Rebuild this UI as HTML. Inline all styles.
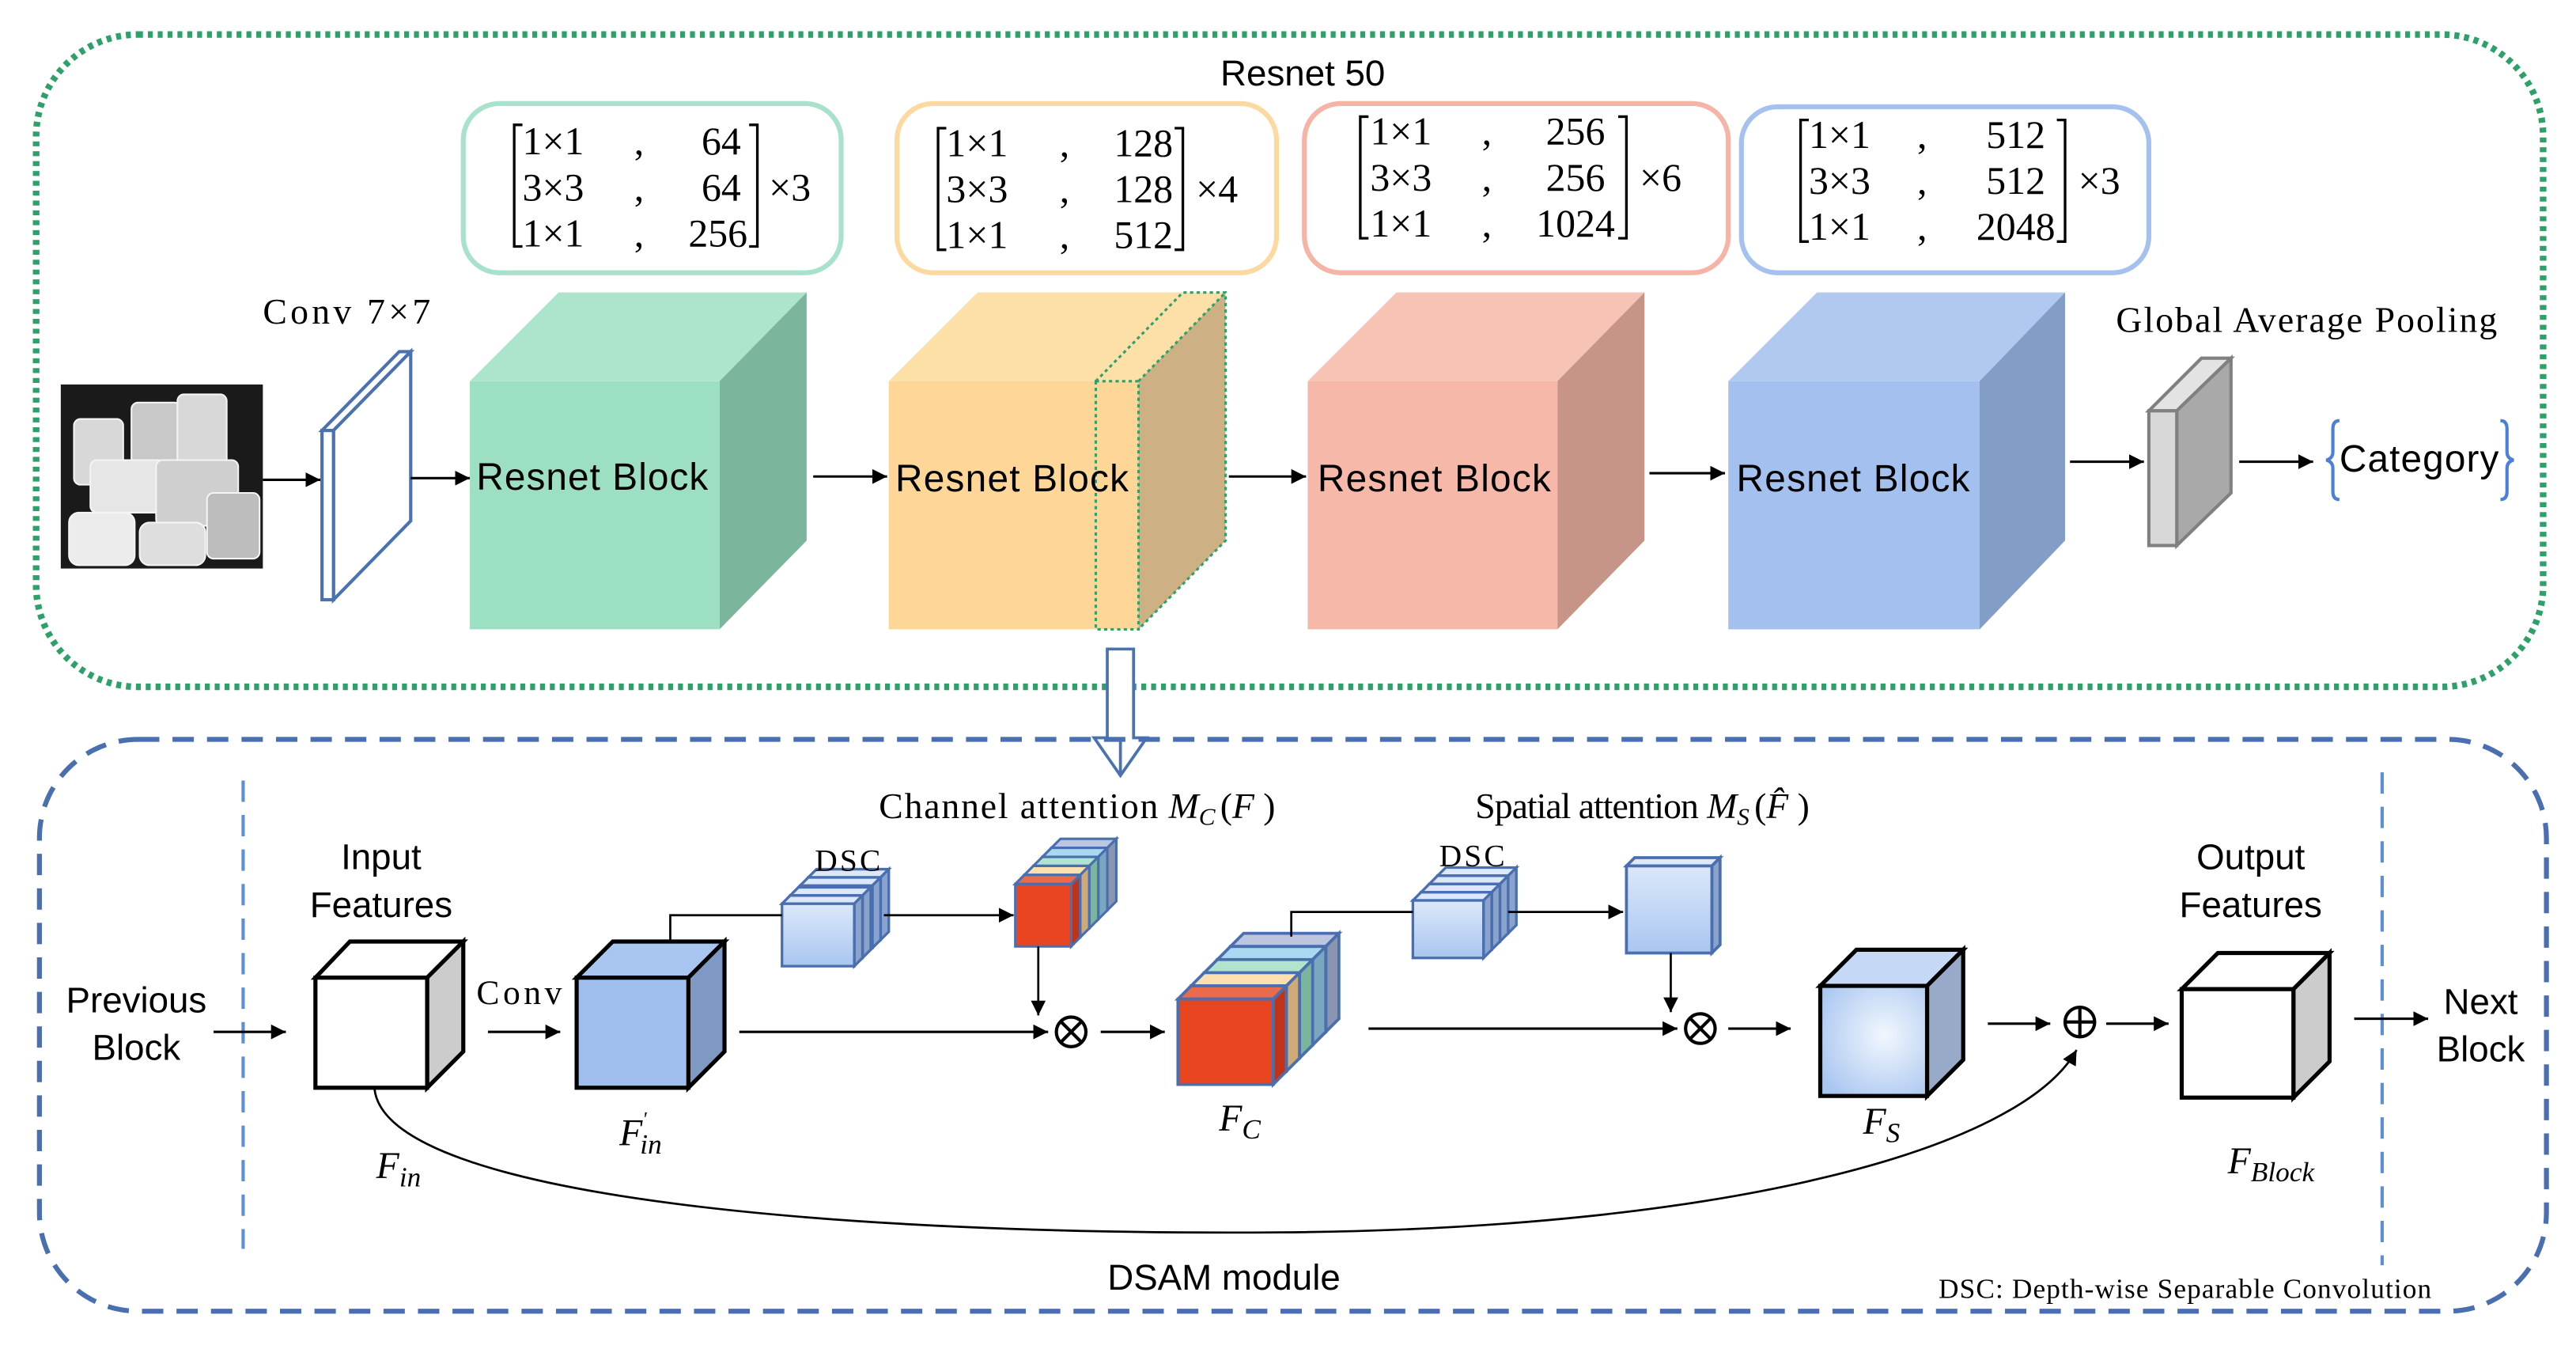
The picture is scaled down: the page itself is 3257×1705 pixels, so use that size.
<!DOCTYPE html>
<html><head><meta charset="utf-8"><style>
html,body{margin:0;padding:0;background:#fff}
svg{display:block}
.s{font-family:"Liberation Sans",sans-serif}
.r{font-family:"Liberation Serif",serif}
</style></head><body>
<svg width="3257" height="1705" viewBox="0 0 1568 821" preserveAspectRatio="none" xmlns="http://www.w3.org/2000/svg">
<defs>
<marker id="a" viewBox="0 0 10 10" refX="10" refY="5" markerWidth="9" markerHeight="9" markerUnits="userSpaceOnUse" orient="auto"><path d="M0,0L10,5L0,10z" fill="#000"/></marker>
<linearGradient id="lb" x1="0" y1="0" x2="0" y2="1"><stop offset="0" stop-color="#dce8fa"/><stop offset="1" stop-color="#a9c6f0"/></linearGradient>
<radialGradient id="rg" cx="0.6" cy="0.45" r="0.7"><stop offset="0" stop-color="#f2f7fe"/><stop offset="1" stop-color="#a9c6f0"/></radialGradient>
</defs>

<!-- top green dotted container -->
<rect x="22" y="21" width="1526" height="397" rx="62" fill="none" stroke="#2ea06a" stroke-width="4" stroke-dasharray="3,3"/>
<text x="793" y="52" class="s" font-size="22" text-anchor="middle">Resnet 50</text>

<!-- matrix boxes -->
<rect x="282" y="63" width="230" height="103" rx="22" fill="#fff" stroke="#a8e2cb" stroke-width="3"/>
<rect x="546" y="63" width="231" height="103" rx="22" fill="#fff" stroke="#fdd9a2" stroke-width="3"/>
<rect x="794" y="63" width="258" height="103" rx="22" fill="#fff" stroke="#f5b4a6" stroke-width="3"/>
<rect x="1060" y="65" width="248" height="101" rx="22" fill="#fff" stroke="#a5c1ef" stroke-width="3"/>

<g class="r" font-size="24" fill="#000">
<g>
<path d="M318,76h-5v74h5M456,76h5v74h-5" fill="none" stroke="#000" stroke-width="1.6"/>
<text x="318" y="94">1×1</text><text x="386" y="94">,</text><text x="451" y="94" text-anchor="end">64</text>
<text x="318" y="122">3×3</text><text x="386" y="122">,</text><text x="451" y="122" text-anchor="end">64</text>
<text x="318" y="150">1×1</text><text x="386" y="150">,</text><text x="455" y="150" text-anchor="end">256</text>
<text x="468" y="122">×3</text>
</g>
<g>
<path d="M576,78h-5v74h5M715,78h5v74h-5" fill="none" stroke="#000" stroke-width="1.6"/>
<text x="576" y="95">1×1</text><text x="645" y="95">,</text><text x="714" y="95" text-anchor="end">128</text>
<text x="576" y="123">3×3</text><text x="645" y="123">,</text><text x="714" y="123" text-anchor="end">128</text>
<text x="576" y="151">1×1</text><text x="645" y="151">,</text><text x="714" y="151" text-anchor="end">512</text>
<text x="728" y="123">×4</text>
</g>
<g>
<path d="M833,71h-5v74h5M985,71h5v74h-5" fill="none" stroke="#000" stroke-width="1.6"/>
<text x="834" y="88">1×1</text><text x="902" y="88">,</text><text x="977" y="88" text-anchor="end">256</text>
<text x="834" y="116">3×3</text><text x="902" y="116">,</text><text x="977" y="116" text-anchor="end">256</text>
<text x="834" y="144">1×1</text><text x="902" y="144">,</text><text x="983" y="144" text-anchor="end">1024</text>
<text x="998" y="116">×6</text>
</g>
<g>
<path d="M1101,73h-5v74h5M1252,73h5v74h-5" fill="none" stroke="#000" stroke-width="1.6"/>
<text x="1101" y="90">1×1</text><text x="1167" y="90">,</text><text x="1245" y="90" text-anchor="end">512</text>
<text x="1101" y="118">3×3</text><text x="1167" y="118">,</text><text x="1245" y="118" text-anchor="end">512</text>
<text x="1101" y="146">1×1</text><text x="1167" y="146">,</text><text x="1251" y="146" text-anchor="end">2048</text>
<text x="1265" y="118">×3</text>
</g>
</g>

<!-- input image -->
<rect x="37" y="234" width="123" height="112" fill="#1a1a1a"/>
<g fill="#d8d8d8" stroke="#f4f4f4" stroke-width="1">
<rect x="45" y="255" width="30" height="40" rx="4"/>
<rect x="80" y="245" width="30" height="38" rx="4" fill="#c8c8c8"/>
<rect x="108" y="240" width="30" height="50" rx="4"/>
<rect x="55" y="280" width="45" height="32" rx="4" fill="#e6e6e6"/>
<rect x="95" y="280" width="50" height="40" rx="4" fill="#cfcfcf"/>
<rect x="42" y="312" width="40" height="32" rx="6" fill="#ececec"/>
<rect x="85" y="318" width="40" height="26" rx="6" fill="#dedede"/>
<rect x="126" y="300" width="32" height="40" rx="4" fill="#bdbdbd"/>
</g>
<text x="160" y="197" class="r" font-size="22" textLength="102">Conv 7×7</text>
<line x1="160" y1="292" x2="195" y2="292" stroke="#000" stroke-width="1.5" marker-end="url(#a)"/>
<g fill="#fff" stroke="#4a72b0" stroke-width="2">
<polygon points="196,262 243,214 250,214 203,262"/>
<polygon points="203,262 250,214 250,317 203,365"/>
<rect x="196" y="262" width="7" height="103"/>
</g>
<line x1="250" y1="291" x2="286" y2="291" stroke="#000" stroke-width="1.5" marker-end="url(#a)"/>

<polygon points="286,232 340,178 491,178 438,232" fill="#ade5cc"/>
<polygon points="438,232 491,178 491,329 438,383" fill="#7bb59b"/>
<rect x="286" y="232" width="152" height="151" fill="#9ddfc2"/>
<text x="290" y="298" class="s" font-size="23" textLength="141">Resnet Block</text>
<line x1="495" y1="290" x2="540" y2="290" stroke="#000" stroke-width="1.5" marker-end="url(#a)"/>

<polygon points="541,232 595,178 746,178 693,232" fill="#fddfa8"/>
<polygon points="693,232 746,178 746,329 693,383" fill="#cdb084"/>
<rect x="541" y="232" width="152" height="151" fill="#fdd698"/>
<g fill="none" stroke="#2ea06a" stroke-width="1.5" stroke-dasharray="2,2">
<rect x="667" y="232" width="26" height="151"/>
<polyline points="667,232 720,178 746,178 746,329 693,383"/>
<line x1="693" y1="232" x2="746" y2="178"/>
</g>
<text x="545" y="299" class="s" font-size="23" textLength="142">Resnet Block</text>
<line x1="748" y1="290" x2="795" y2="290" stroke="#000" stroke-width="1.5" marker-end="url(#a)"/>

<polygon points="796,232 850,178 1001,178 948,232" fill="#f7c3b5"/>
<polygon points="948,232 1001,178 1001,329 948,383" fill="#c69587"/>
<rect x="796" y="232" width="152" height="151" fill="#f6b8a8"/>
<text x="802" y="299" class="s" font-size="23" textLength="142">Resnet Block</text>
<line x1="1004" y1="288" x2="1050" y2="288" stroke="#000" stroke-width="1.5" marker-end="url(#a)"/>

<polygon points="1052,232 1106,178 1257,178 1205,232" fill="#b1c9f1"/>
<polygon points="1205,232 1257,178 1257,329 1205,383" fill="#829dc6"/>
<rect x="1052" y="232" width="153" height="151" fill="#a3c0ee"/>
<text x="1057" y="299" class="s" font-size="23" textLength="142">Resnet Block</text>
<line x1="1260" y1="281" x2="1305" y2="281" stroke="#000" stroke-width="1.5" marker-end="url(#a)"/>

<text x="1288" y="202" class="r" font-size="22" textLength="232">Global Average Pooling</text>
<g stroke="#808080" stroke-width="2">
<polygon points="1308,250 1340,218 1358,218 1325,250" fill="#e3e3e3"/>
<polygon points="1325,250 1358,218 1358,300 1325,332" fill="#a9a9a9"/>
<rect x="1308" y="250" width="17" height="82" fill="#d8d8d8"/>
</g>
<line x1="1363" y1="281" x2="1408" y2="281" stroke="#000" stroke-width="1.5" marker-end="url(#a)"/>
<text x="1424" y="287" class="s" font-size="23" textLength="97">Category</text>
<path d="M1424,256 q-4,0 -4,5 v14 q0,4 -4,5 q4,1 4,5 v14 q0,5 4,5" fill="none" stroke="#4a80d8" stroke-width="2"/>
<path d="M1522,256 q4,0 4,5 v14 q0,4 4,5 q-4,1 -4,5 v14 q0,5 -4,5" fill="none" stroke="#4a80d8" stroke-width="2"/>

<path d="M674,395 h16 v54 h8 l-16,23 l-16,-23 h8 z" fill="#fff" stroke="#4a72b0" stroke-width="1.8"/>

<rect x="24" y="450" width="1526" height="348" rx="60" fill="none" stroke="#4a6fb0" stroke-width="3" stroke-dasharray="13,8"/>
<path d="M682,450 v22" stroke="#4a72b0" stroke-width="1.8"/>
<line x1="148" y1="475" x2="148" y2="760" stroke="#5b8fd6" stroke-width="2" stroke-dasharray="13,8"/>
<line x1="1450" y1="470" x2="1450" y2="770" stroke="#5b8fd6" stroke-width="2" stroke-dasharray="13,8"/>

<g class="s" font-size="22" text-anchor="middle">
<text x="83" y="616">Previous</text><text x="83" y="645">Block</text>
<text x="232" y="529">Input</text><text x="232" y="558">Features</text>
<text x="1370" y="529">Output</text><text x="1370" y="558">Features</text>
<text x="1510" y="617">Next</text><text x="1510" y="646">Block</text>
<text x="745" y="785">DSAM module</text>
</g>
<text x="1180" y="790" class="r" font-size="17" textLength="300">DSC: Depth-wise Separable Convolution</text>

<line x1="130" y1="628" x2="174" y2="628" stroke="#000" stroke-width="1.5" marker-end="url(#a)"/>
<g stroke="#000" stroke-width="2.5">
<polygon points="192,595 213,573 282,573 260,595" fill="#fff"/>
<polygon points="260,595 282,573 282,640 260,662" fill="#cccccc"/>
<rect x="192" y="595" width="68" height="67" fill="#fff"/>
</g>
<text x="290" y="611" class="r" font-size="21" textLength="52">Conv</text>
<line x1="297" y1="628" x2="341" y2="628" stroke="#000" stroke-width="1.5" marker-end="url(#a)"/>
<g stroke="#000" stroke-width="2.5">
<polygon points="351,595 373,573 441,573 419,595" fill="#a9c6f0"/>
<polygon points="419,595 441,573 441,640 419,662" fill="#8099c4"/>
<rect x="351" y="595" width="68" height="67" fill="#a0bfee"/>
</g>

<g stroke="#4a6fb0" stroke-width="1.6">
<polygon points="492,534 497,529 541,529 536,534" fill="#dce8fa"/><polygon points="536,534 541,529 541,567 536,572" fill="#8aa3cc"/><rect x="492" y="534" width="44" height="38" fill="url(#lb)"/>
<polygon points="487,539 492,534 536,534 531,539" fill="#dce8fa"/><polygon points="531,539 536,534 536,572 531,577" fill="#8aa3cc"/><rect x="487" y="539" width="44" height="38" fill="url(#lb)"/>
<polygon points="481,545 486,540 530,540 525,545" fill="#dce8fa"/><polygon points="525,545 530,540 530,578 525,583" fill="#8aa3cc"/><rect x="481" y="545" width="44" height="38" fill="url(#lb)"/>
<polygon points="476,550 481,545 525,545 520,550" fill="#dce8fa"/><polygon points="520,550 525,545 525,583 520,588" fill="#8aa3cc"/><rect x="476" y="550" width="44" height="38" fill="url(#lb)"/>
</g>
<text x="496" y="530" class="r" font-size="19" textLength="40">DSC</text>
<polyline points="408,573 408,557 476,557" fill="none" stroke="#000" stroke-width="1.3"/>
<line x1="538" y1="557" x2="617" y2="557" stroke="#000" stroke-width="1.3" marker-end="url(#a)"/>

<g stroke="#4a6fb0" stroke-width="1.5">
<polygon points="640,516 645.5,510.5 679.5,510.5 674,516" fill="#bcc6e0"/><polygon points="674,516 679.5,510.5 679.5,548.5 674,554" fill="#8a95b0"/><rect x="640" y="516" width="34" height="38" fill="#bcc6e0"/>
<polygon points="634.5,521.5 640,516 674,516 668.5,521.5" fill="#a9d8f0"/><polygon points="668.5,521.5 674,516 674,554 668.5,559.5" fill="#7aa6c0"/><rect x="634.5" y="521.5" width="34" height="38" fill="#a9d8f0"/>
<polygon points="629,527 634.5,521.5 668.5,521.5 663,527" fill="#b0e4cc"/><polygon points="663,527 668.5,521.5 668.5,559.5 663,565" fill="#7bb59b"/><rect x="629" y="527" width="34" height="38" fill="#b0e4cc"/>
<polygon points="623.5,532.5 629,527 663,527 657.5,532.5" fill="#fde0ad"/><polygon points="657.5,532.5 663,527 663,565 657.5,570.5" fill="#cdaa78"/><rect x="623.5" y="532.5" width="34" height="38" fill="#fde0ad"/>
<polygon points="618,538 623.5,532.5 657.5,532.5 652,538" fill="#ea6a4c"/><polygon points="652,538 657.5,532.5 657.5,570.5 652,576" fill="#bf3418"/><rect x="618" y="538" width="34" height="38" fill="#e94520"/>
</g>
<text x="535" y="498" class="r" font-size="22"><tspan textLength="170">Channel attention</tspan> <tspan font-style="italic">M</tspan><tspan font-style="italic" font-size="15" dy="4">C</tspan><tspan dy="-4" dx="3">(</tspan><tspan font-style="italic">F</tspan> )</text>
<line x1="632" y1="576" x2="632" y2="618" stroke="#000" stroke-width="1.3" marker-end="url(#a)"/>
<line x1="450" y1="628" x2="638" y2="628" stroke="#000" stroke-width="1.5" marker-end="url(#a)"/>
<g fill="none" stroke="#000" stroke-width="2"><circle cx="652" cy="628" r="9"/><path d="M645.6,621.6l12.8,12.8M658.4,621.6l-12.8,12.8"/></g>
<line x1="670" y1="628" x2="709" y2="628" stroke="#000" stroke-width="1.5" marker-end="url(#a)"/>

<g stroke="#4a6fb0" stroke-width="1.8">
<polygon points="749,576 757,568 815,568 807,576" fill="#bcc6e0"/><polygon points="807,576 815,568 815,620 807,628" fill="#8a95b0"/><rect x="749" y="576" width="58" height="52" fill="#bcc6e0"/>
<polygon points="741,584 749,576 807,576 799,584" fill="#a9d8f0"/><polygon points="799,584 807,576 807,628 799,636" fill="#7aa6c0"/><rect x="741" y="584" width="58" height="52" fill="#a9d8f0"/>
<polygon points="733,592 741,584 799,584 791,592" fill="#b0e4cc"/><polygon points="791,592 799,584 799,636 791,644" fill="#7bb59b"/><rect x="733" y="592" width="58" height="52" fill="#b0e4cc"/>
<polygon points="725,600 733,592 791,592 783,600" fill="#fde0ad"/><polygon points="783,600 791,592 791,644 783,652" fill="#cdaa78"/><rect x="725" y="600" width="58" height="52" fill="#fde0ad"/>
<polygon points="717,608 725,600 783,600 775,608" fill="#ea6a4c"/><polygon points="775,608 783,600 783,652 775,660" fill="#bf3418"/><rect x="717" y="608" width="58" height="52" fill="#e94520"/>
</g>

<g stroke="#4a6fb0" stroke-width="1.6">
<polygon points="875,533 880,528 923,528 918,533" fill="#dce8fa"/><polygon points="918,533 923,528 923,563 918,568" fill="#8aa3cc"/><rect x="875" y="533" width="43" height="35" fill="url(#lb)"/>
<polygon points="870,538 875,533 918,533 913,538" fill="#dce8fa"/><polygon points="913,538 918,533 918,568 913,573" fill="#8aa3cc"/><rect x="870" y="538" width="43" height="35" fill="url(#lb)"/>
<polygon points="865,543 870,538 913,538 908,543" fill="#dce8fa"/><polygon points="908,543 913,538 913,573 908,578" fill="#8aa3cc"/><rect x="865" y="543" width="43" height="35" fill="url(#lb)"/>
<polygon points="860,548 865,543 908,543 903,548" fill="#dce8fa"/><polygon points="903,548 908,543 908,578 903,583" fill="#8aa3cc"/><rect x="860" y="548" width="43" height="35" fill="url(#lb)"/>
</g>
<text x="876" y="527" class="r" font-size="19" textLength="40">DSC</text>
<polyline points="786,570 786,555 860,555" fill="none" stroke="#000" stroke-width="1.3"/>
<line x1="918" y1="555" x2="988" y2="555" stroke="#000" stroke-width="1.3" marker-end="url(#a)"/>
<g stroke="#4a6fb0" stroke-width="1.8">
<polygon points="990,527 995,522 1047,522 1042,527" fill="#dce8fa"/>
<polygon points="1042,527 1047,522 1047,575 1042,580" fill="#8aa3cc"/>
<rect x="990" y="527" width="52" height="53" fill="url(#lb)"/>
</g>
<text x="898" y="498" class="r" font-size="22"><tspan textLength="136">Spatial attention</tspan> <tspan font-style="italic">M</tspan><tspan font-style="italic" font-size="15" dy="4">S</tspan><tspan dy="-4" dx="3">(</tspan><tspan font-style="italic">F̂</tspan> )</text>
<line x1="1017" y1="580" x2="1017" y2="616" stroke="#000" stroke-width="1.3" marker-end="url(#a)"/>
<line x1="833" y1="626" x2="1021" y2="626" stroke="#000" stroke-width="1.5" marker-end="url(#a)"/>
<g fill="none" stroke="#000" stroke-width="2"><circle cx="1035" cy="626" r="9"/><path d="M1028.6,619.6l12.8,12.8M1041.4,619.6l-12.8,12.8"/></g>
<line x1="1052" y1="626" x2="1090" y2="626" stroke="#000" stroke-width="1.5" marker-end="url(#a)"/>

<g stroke="#000" stroke-width="2.5">
<polygon points="1108,600 1130,578 1195,578 1173,600" fill="#c5d8f5"/>
<polygon points="1173,600 1195,578 1195,645 1173,667" fill="#98aac8"/>
<rect x="1108" y="600" width="65" height="67" fill="url(#rg)"/>
</g>
<line x1="1210" y1="623" x2="1248" y2="623" stroke="#000" stroke-width="1.5" marker-end="url(#a)"/>
<g fill="none" stroke="#000" stroke-width="2"><circle cx="1266" cy="622" r="9"/><path d="M1257,622h18M1266,613v18"/></g>
<line x1="1282" y1="623" x2="1320" y2="623" stroke="#000" stroke-width="1.5" marker-end="url(#a)"/>
<g stroke="#000" stroke-width="2.5">
<polygon points="1328,602 1350,580 1418,580 1396,602" fill="#fff"/>
<polygon points="1396,602 1418,580 1418,646 1396,668" fill="#cccccc"/>
<rect x="1328" y="602" width="68" height="66" fill="#fff"/>
</g>
<line x1="1433" y1="620" x2="1478" y2="620" stroke="#000" stroke-width="1.5" marker-end="url(#a)"/>

<path d="M228,663 C236,730 520,752 780,750 C1050,748 1230,700 1264,639" fill="none" stroke="#000" stroke-width="1.3" marker-end="url(#a)"/>

<g class="r" font-style="italic" font-size="23">
<text x="229" y="717">F<tspan font-size="17" dy="5">in</tspan></text>
<text x="377" y="697">F<tspan font-size="12" dy="-12">'</tspan><tspan font-size="17" dx="-4" dy="17">in</tspan></text>
<text x="742" y="688">F<tspan font-size="17" dy="5">C</tspan></text>
<text x="1134" y="690">F<tspan font-size="17" dy="5">S</tspan></text>
<text x="1356" y="714">F<tspan font-size="17" dy="5">Block</tspan></text>
</g>
</svg>
</body></html>
